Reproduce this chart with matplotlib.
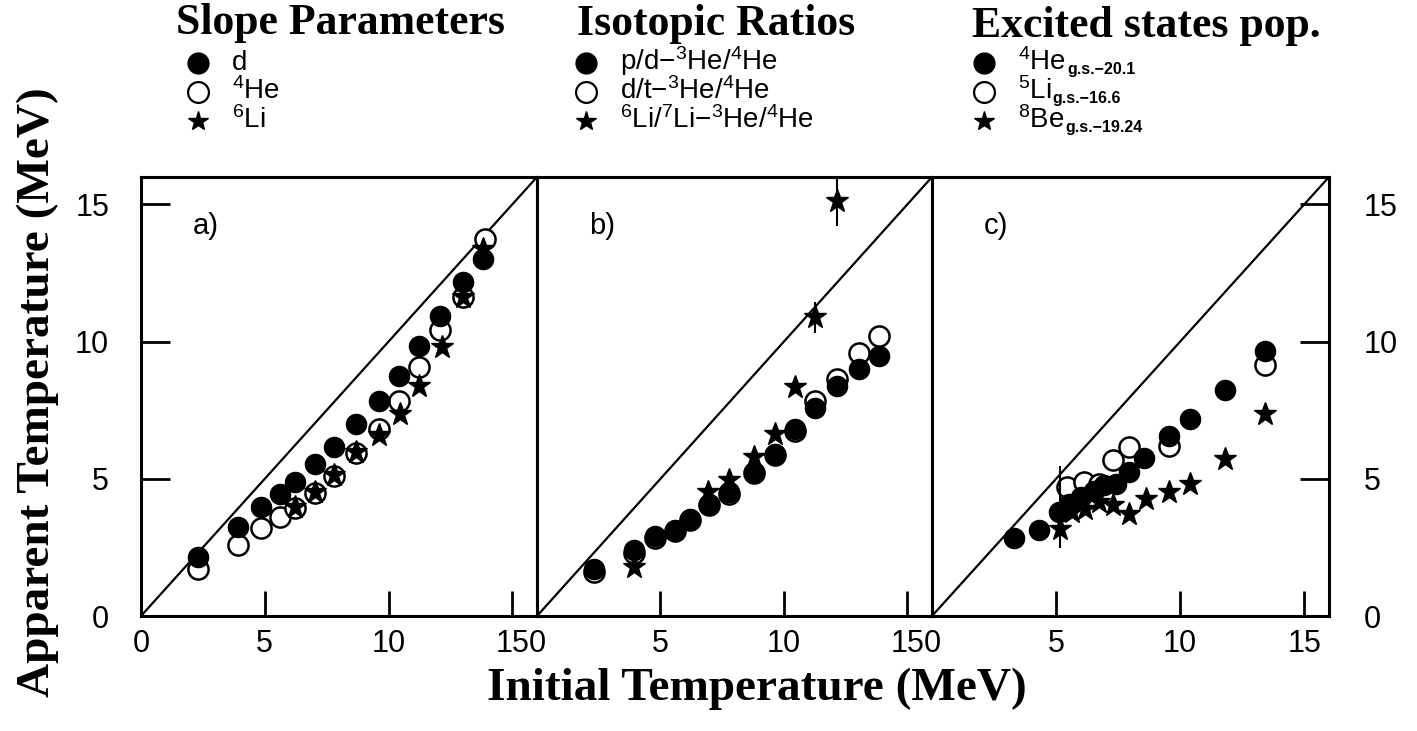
import matplotlib
matplotlib.use("Agg")
import matplotlib.pyplot as plt
import numpy as np

plt.rcParams['font.family'] = ['Liberation Sans', 'DejaVu Sans']
plt.rcParams['mathtext.fontset'] = 'custom'
plt.rcParams['mathtext.rm'] = 'Liberation Sans'
plt.rcParams['mathtext.bf'] = 'Liberation Sans:bold'
plt.rcParams['mathtext.default'] = 'regular'

# ---------------- data ----------------
# Panel a: slope parameters
a_d_x = [2.32, 3.91, 4.83, 5.60, 6.23, 7.02, 7.80, 8.70, 9.61, 10.43, 11.23, 12.08, 13.02, 13.83]
a_d_y = [2.16, 3.25, 3.98, 4.46, 4.88, 5.55, 6.16, 6.98, 7.85, 8.76, 9.83, 10.92, 12.16, 13.00]
a_he_x = [2.32, 3.91, 4.83, 5.60, 6.23, 7.02, 7.80, 8.70, 9.61, 10.43, 11.23, 12.08, 13.02, 13.90]
a_he_y = [1.73, 2.58, 3.19, 3.61, 3.92, 4.48, 5.09, 5.94, 6.82, 7.85, 9.07, 10.42, 11.61, 13.73]
a_li_x = [6.23, 7.02, 7.80, 8.70, 9.61, 10.46, 11.23, 12.15, 13.02, 13.83]
a_li_y = [3.98, 4.52, 5.13, 5.98, 6.58, 7.37, 8.40, 9.79, 11.61, 13.37]

# Panel b: isotopic ratios
b_pd_x = [2.31, 3.94, 4.78, 5.59, 6.20, 6.97, 7.78, 8.77, 9.63, 10.44, 11.25, 12.16, 13.04, 13.85]
b_pd_y = [1.73, 2.40, 2.91, 3.15, 3.55, 4.10, 4.52, 5.25, 5.92, 6.82, 7.59, 8.40, 9.00, 9.49]
b_dt_x = [2.31, 3.94, 4.78, 5.59, 6.20, 6.97, 7.78, 8.77, 9.63, 10.44, 11.25, 12.16, 13.04, 13.85]
b_dt_y = [1.61, 2.30, 2.85, 3.10, 3.50, 4.05, 4.45, 5.20, 5.85, 6.75, 7.85, 8.64, 9.58, 10.19]
b_li_x = [3.94, 6.94, 7.76, 8.77, 9.63, 10.44, 11.25, 12.16]
b_li_y = [1.79, 4.52, 4.95, 5.79, 6.64, 8.34, 10.88, 15.13]
b_li_err = [0.0, 0.0, 0.0, 0.0, 0.0, 0.0, 0.55, 0.9]

# Panel c: excited states population
c_he_x = [3.29, 4.30, 5.11, 5.52, 5.99, 6.53, 6.94, 7.41, 7.95, 8.56, 9.57, 10.41, 11.80, 13.41]
c_he_y = [2.84, 3.12, 3.79, 4.09, 4.33, 4.57, 4.76, 4.82, 5.24, 5.75, 6.57, 7.18, 8.25, 9.67]
c_li_x = [5.45, 6.13, 6.73, 7.31, 7.95, 9.57, 13.41]
c_li_y = [4.69, 4.88, 4.82, 5.67, 6.15, 6.21, 9.14]
c_be_x = [5.15, 5.65, 6.18, 6.73, 7.31, 7.95, 8.62, 9.57, 10.41, 11.80, 13.41]
c_be_y = [3.18, 3.79, 3.91, 4.15, 4.05, 3.73, 4.27, 4.51, 4.82, 5.73, 7.36]
c_be_err_lo = [0.7, 0, 0, 0, 0, 0, 0, 0, 0, 0, 0]
c_be_err_hi = [2.3, 0, 0, 0, 0, 0, 0, 0, 0, 0, 0]

ticks = [0, 5, 10, 15]
tick_labels = ['0', '5', '10', '15']
lim = [0, 16]

titles = ['Slope Parameters', 'Isotopic Ratios', 'Excited states pop.']
panel_tags = ['a)', 'b)', 'c)']
leg_a = ['d', r'$^{4}$He', r'$^{6}$Li']
leg_b = [r'p/d$-^{3}$He/$^{4}$He', r'd/t$-^{3}$He/$^{4}$He', r'$^{6}$Li/$^{7}$Li$-^{3}$He/$^{4}$He']
leg_c = [r'$^{4}$He', r'$^{5}$Li', r'$^{8}$Be']
leg_c_sub = ['g.s.\u221220.1', 'g.s.\u221216.6', 'g.s.\u221219.24']

# ---------------- figure ----------------
W, H = 1417, 731
fig = plt.figure(figsize=(W / 100, H / 100), dpi=100)

def rect(l, r, t, b):
    return [l / W, 1 - b / H, (r - l) / W, (b - t) / H]

top, bot = 177, 616
edges = [141, 537, 932, 1329]
axs = [fig.add_axes(rect(edges[i], edges[i + 1], top, bot)) for i in range(3)]

ms_f = 14.5
ms_o = 14.5
ms_s = 17

for i, ax in enumerate(axs):
    ax.set_xlim(lim)
    ax.set_ylim(lim)
    ax.plot(lim, lim, color='black', lw=1.6, zorder=1)
    for s in ax.spines.values():
        s.set_linewidth(2.2)
    ax.set_xticks(ticks)
    ax.set_xticklabels(tick_labels)
    ax.set_yticks(ticks)
    ax.tick_params(axis='x', direction='in', length=18, width=2, labelsize=22, pad=9)
    ax.tick_params(axis='y', direction='in', length=21, width=2, labelsize=22)
    ax.text(2.1, 14.2, panel_tags[i], fontsize=21, va='center', ha='left')
    if i == 0:
        ax.tick_params(axis='y', left=True, right=False, labelleft=True, labelright=False, pad=23)
        ax.set_yticklabels(tick_labels)
    elif i == 1:
        ax.tick_params(axis='y', left=False, right=False, labelleft=False, labelright=False)
    else:
        ax.tick_params(axis='y', left=False, right=True, labelleft=False, labelright=True, pad=25)
        ax.set_yticklabels(tick_labels)

def open_c(ax, x, y):
    ax.plot(x, y, 'o', ls='none', ms=ms_o, mfc='white', mec='black', mew=1.8, zorder=2)

def filled_c(ax, x, y):
    ax.plot(x, y, 'o', ls='none', ms=ms_f, mfc='black', mec='black', zorder=4)

def stars(ax, x, y, yerr=None):
    if yerr is not None:
        ax.errorbar(x, y, yerr=yerr, fmt='none', ecolor='black', elinewidth=1.5, capsize=0, zorder=3)
    ax.plot(x, y, '*', ls='none', ms=ms_s, mfc='black', mec='black', zorder=3)

open_c(axs[0], a_he_x, a_he_y)
stars(axs[0], a_li_x, a_li_y)
filled_c(axs[0], a_d_x, a_d_y)

open_c(axs[1], b_dt_x, b_dt_y)
stars(axs[1], b_li_x, b_li_y, yerr=b_li_err)
filled_c(axs[1], b_pd_x, b_pd_y)

open_c(axs[2], c_li_x, c_li_y)
stars(axs[2], c_be_x, c_be_y, yerr=[c_be_err_lo, c_be_err_hi])
filled_c(axs[2], c_he_x, c_he_y)

# axis labels
fig.text(38 / W, 1 - 392 / H, 'Apparent Temperature (MeV)', rotation=90, ha='center', va='center',
         fontsize=34, fontweight='bold', family='Liberation Serif')
fig.text(757 / W, 1 - 689 / H, 'Initial Temperature (MeV)', ha='center', va='center',
         fontsize=34, fontweight='bold', family='Liberation Serif')

# legends (overlay in pixel coords)
ov = fig.add_axes([0, 0, 1, 1], zorder=10)
ov.set_xlim(0, W)
ov.set_ylim(H, 0)
ov.axis('off')
ov.patch.set_alpha(0)

title_x = [176, 577, 972]
title_y = [34, 35, 37]
mark_x = [198, 586, 984]
text_x = [232, 620, 1018]
rows = [63, 92, 121]
legs = [leg_a, leg_b, leg_c]
renderer = fig.canvas.get_renderer()
for k in range(3):
    ov.text(title_x[k], title_y[k], titles[k], fontsize=31.5, fontweight='bold', family='Liberation Serif',
            ha='left', va='baseline')
    ov.plot(mark_x[k], rows[0], 'o', ms=15, mfc='black', mec='black')
    ov.plot(mark_x[k], rows[1], 'o', ms=15, mfc='white', mec='black', mew=1.6)
    ov.plot(mark_x[k], rows[2], '*', ms=15, mfc='black', mec='black')
    for j in range(3):
        t = ov.text(text_x[k], rows[j] + 7, legs[k][j], fontsize=20, ha='left', va='baseline')
        if k == 2:
            bb = t.get_window_extent(renderer=renderer)
            ov.text(text_x[k] + bb.width + 1, rows[j] + 11, leg_c_sub[j], fontsize=11.5,
                    fontweight='bold', ha='left', va='baseline')

fig.savefig('out.png', dpi=100)
